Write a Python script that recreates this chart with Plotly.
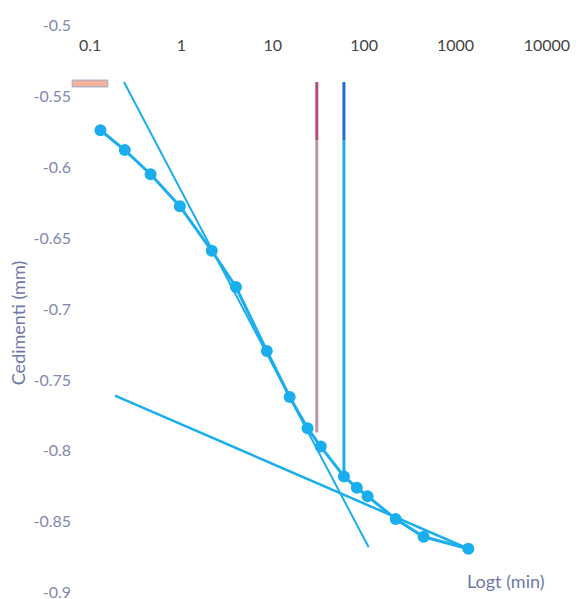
import plotly.graph_objects as go

# Main settlement curve (time in min, settlement in mm)
time_min = [0.13, 0.24, 0.46, 0.96, 2.15, 3.95, 8.6, 15.3, 24, 33.5, 60, 83, 109, 221, 447, 1380]
cedimenti = [-0.574, -0.588, -0.605, -0.6275, -0.659, -0.6845, -0.7296, -0.762, -0.784,
             -0.797, -0.818, -0.826, -0.832, -0.848, -0.8606, -0.869]

# Tangent lines
steep_x = [0.235, 112]
steep_y = [-0.540, -0.868]
flat_x = [0.1875, 1380]
flat_y = [-0.761, -0.869]

# Vertical construction lines
pink_x = [30.3, 30.3]
pink_top_y = [-0.540, -0.581]
pink_low_y = [-0.581, -0.787]
blue_x = [60, 60]
blue_top_y = [-0.540, -0.581]
blue_low_y = [-0.581, -0.818]

y_ticks = [-0.5, -0.55, -0.6, -0.65, -0.7, -0.75, -0.8, -0.85, -0.9]
y_tick_text = ["-0.5", "-0.55", "-0.6", "-0.65", "-0.7", "-0.75", "-0.8", "-0.85", "-0.9"]
x_ticks = [0.1, 1, 10, 100, 1000, 10000]
x_tick_text = ["0.1", "1", "10", "100", "1000", "10000"]

BLUE = "#1AAEEF"
TXT = "#7F88B0"
TITLE = "#6E79A6"
fig = go.Figure()
fig.add_trace(go.Scatter(x=pink_x, y=pink_low_y, mode="lines",
                         line=dict(color="#B898A8", width=3), showlegend=False))
fig.add_trace(go.Scatter(x=pink_x, y=pink_top_y, mode="lines",
                         line=dict(color="#B4497C", width=3), showlegend=False))
fig.add_trace(go.Scatter(x=blue_x, y=blue_low_y, mode="lines",
                         line=dict(color=BLUE, width=3), showlegend=False))
fig.add_trace(go.Scatter(x=blue_x, y=blue_top_y, mode="lines",
                         line=dict(color="#1C6FD1", width=3), showlegend=False))
fig.add_trace(go.Scatter(x=steep_x, y=steep_y, mode="lines",
                         line=dict(color=BLUE, width=2), showlegend=False))
fig.add_trace(go.Scatter(x=flat_x, y=flat_y, mode="lines",
                         line=dict(color=BLUE, width=2.5), showlegend=False))
fig.add_trace(go.Scatter(x=time_min, y=cedimenti, mode="lines+markers",
                         line=dict(color=BLUE, width=3),
                         marker=dict(color=BLUE, size=12), showlegend=False))

fig.add_shape(type="rect", xref="paper", yref="paper", x0=-0.039, x1=0.039, y0=0.891, y1=0.903,
              fillcolor="#F2B49C", line=dict(color="#A0A6CC", width=1), layer="above")

fig.add_annotation(text="Logt (min)", xref="paper", yref="paper", x=0.910, y=0.021,
                   xanchor="center", yanchor="middle",
                   showarrow=False, font=dict(size=18, color=TITLE, family="Lato"))
fig.add_annotation(text="Cedimenti (mm)", xref="paper", yref="paper", x=-0.1575, y=0.475,
                   xanchor="center", yanchor="middle", textangle=-90,
                   showarrow=False, font=dict(size=18, color=TITLE, family="Lato"))

fig.update_layout(
    width=571, height=591,
    margin=dict(l=82, r=32, t=17, b=6),
    paper_bgcolor="white", plot_bgcolor="white",
    font=dict(family="Lato", size=16, color=TXT),
    xaxis=dict(type="log", range=[-1.0005, 4.0005], side="top", tickvals=x_ticks, ticktext=x_tick_text,
               showgrid=False, zeroline=False, showline=False, ticks="",
               ticklabelposition="inside", ticklabelstandoff=12,
               ticklabeloverflow="allow", automargin=False),
    yaxis=dict(range=[-0.9002, -0.4998], tickvals=y_ticks, ticktext=y_tick_text,
               showgrid=False, zeroline=False, showline=False, ticks="",
               ticklabelstandoff=18, ticklabeloverflow="allow", automargin=False),
)

fig.write_html("out.html")
